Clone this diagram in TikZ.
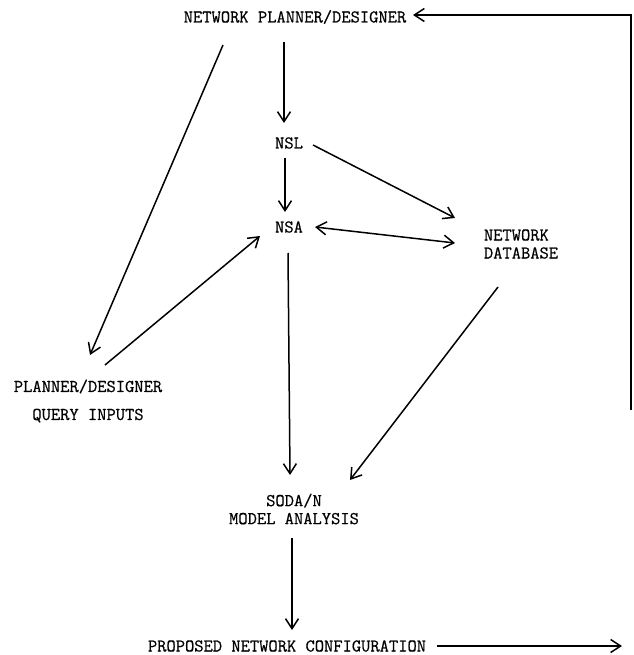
\documentclass[tikz,border=0pt]{standalone}
\usepackage{fontspec}
\newfontfamily\typewriter[FakeBold=0.6]{Latin Modern Mono}
\usetikzlibrary{arrows.meta,calc}

\tikzset{
  label/.style={font=\fontsize{18}{19}\selectfont\typewriter, inner sep=0pt, align=center},
  barb/.tip={Straight Barb[length=10pt,width=13pt,line width=1.5pt]},
  flow/.style={line width=1.5pt, -barb},
  flowboth/.style={line width=1.5pt, barb-barb},
  plain/.style={line width=1.5pt}
}

\begin{document}
\begin{tikzpicture}[x=1pt,y=-1pt]
  \useasboundingbox (0,0) rectangle (633,655);

  % labels
  \node[label] (top)  at (295,17)  {NETWORK PLANNER/DESIGNER};
  \node[label] (nsl)  at (289,143) {NSL};
  \node[label] (nsa)  at (289,227) {NSA};
  \node[label, align=left] (db) at (521,244) {NETWORK\\[-1pt]DATABASE};
  \node[label] (qi)   at (88,401)  {PLANNER/DESIGNER\\[9pt]QUERY INPUTS};
  \node[label] (soda) at (294,509) {SODA/N\\[-1pt]MODEL ANALYSIS};
  \node[label] (prop) at (287,646) {PROPOSED NETWORK CONFIGURATION};

  % free ends of the output and feedback lines
  \coordinate (out) at (622,646);
  \coordinate (fbk) at (631,410);
  \coordinate (corner) at (631,15);

  % connectors
  \draw[flow] ($(top)+(-11,25)$) -- ($(nsl)+(-5,-20)$);
  \draw[flow] ($(top)+(-72,28)$) -- ($(qi)+(2,-46)$);
  \draw[flow] ($(nsl)+(-4,15)$) -- ($(nsa)+(-4,-15)$);
  \draw[flow] ($(nsl)+(24,2)$) -- ($(db)+(-66,-26)$);
  \draw[flowboth] ($(nsa)+(26,0)$) -- ($(db)+(-66,-1)$);
  \draw[flow] ($(qi)+(17,-36)$) -- ($(nsa)+(-29,9)$);
  \draw[flow] ($(nsa)+(-1,26)$) -- ($(soda)+(-4,-34)$);
  \draw[flow] ($(db)+(-23,43)$) -- ($(soda)+(56,-29)$);
  \draw[flow] ($(soda)+(-2,29)$) -- ($(prop)+(5,-16)$);
  \draw[flow] ($(prop)+(150,0)$) -- (out);
  \draw[flow] (fbk) -- (corner) -- ($(top)+(118,-2)$);
\end{tikzpicture}
\end{document}
